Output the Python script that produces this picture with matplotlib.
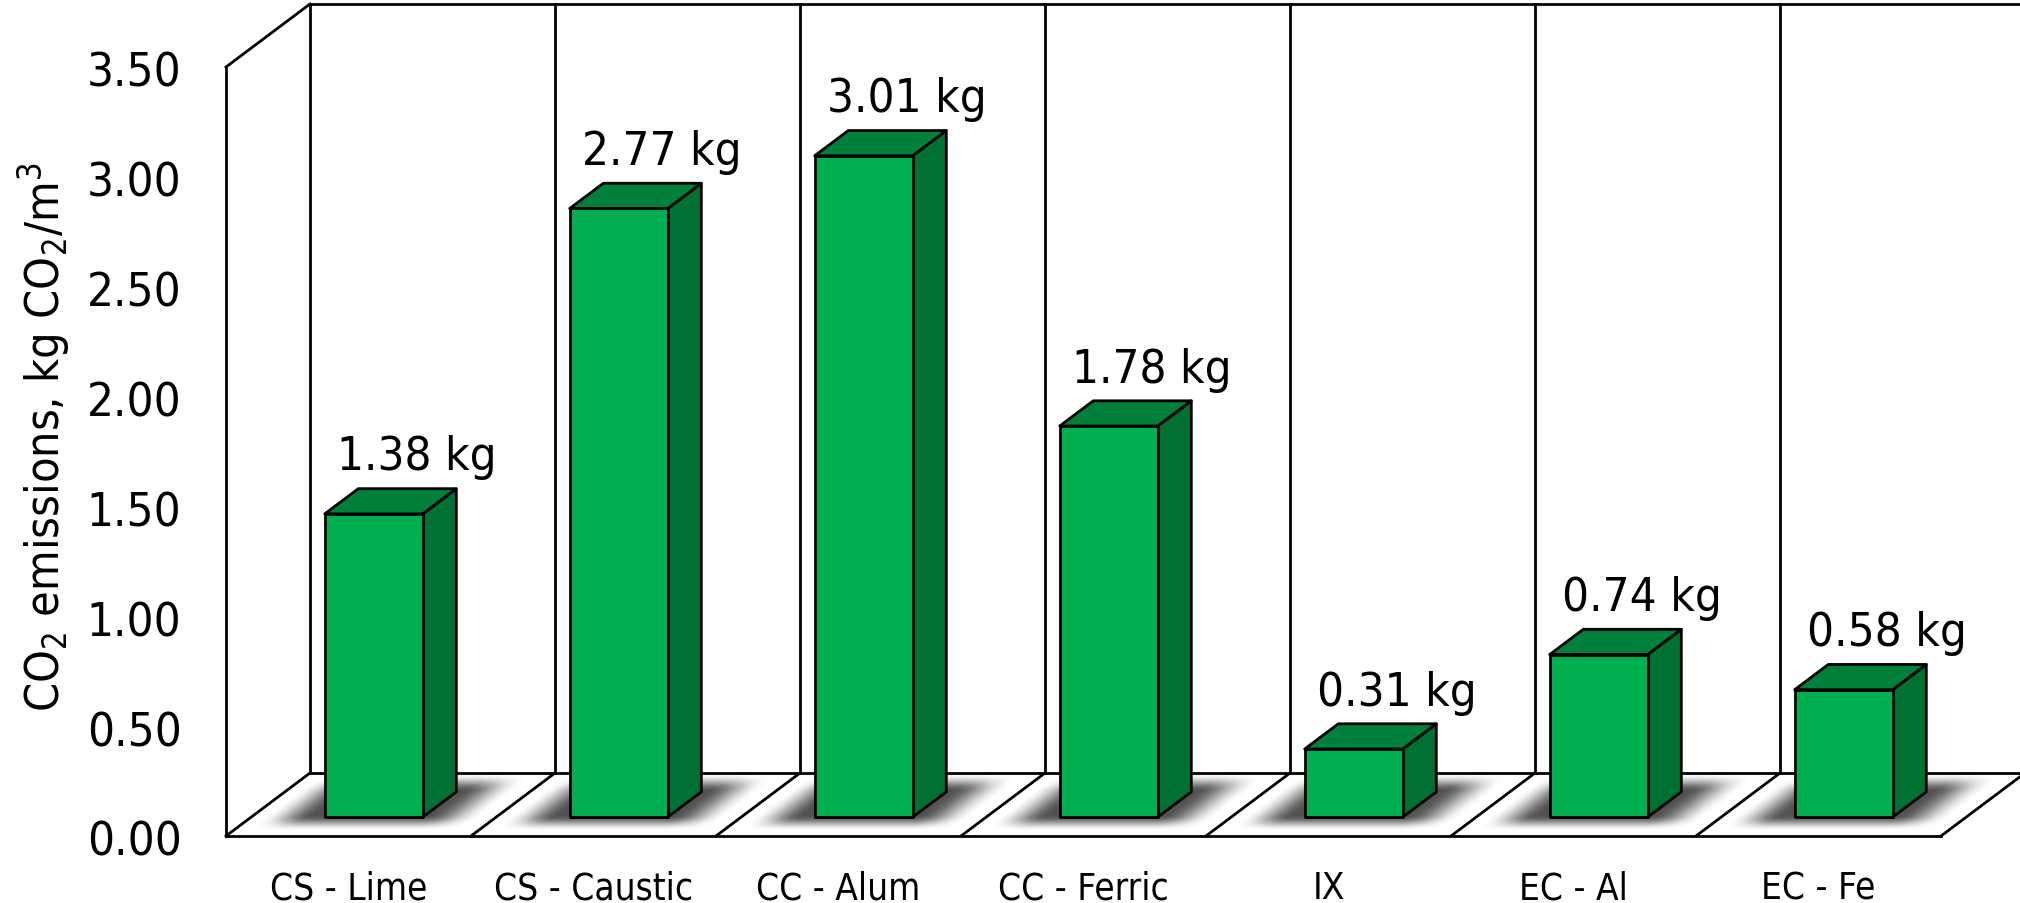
#!/usr/bin/env python
# -*- coding:utf-8 -*-

import numpy as np
from matplotlib import pyplot as plt
from matplotlib.patches import Polygon
from matplotlib.transforms import ScaledTranslation

categories = ['CS - Lime', 'CS - Caustic', 'CC - Alum', 'CC - Ferric', 'IX',
              'EC - Al', 'EC - Fe']
emissions = [1.38, 2.77, 3.01, 1.78, 0.31, 0.74, 0.58]
y_ticks = [0.0, 0.5, 1.0, 1.5, 2.0, 2.5, 3.0, 3.5]

Y_MAX = 3.5
# oblique projection: one full unit of depth moves this far in data units
DEPTH_X = 84 / 245
DEPTH_Y = 63 / 219.7
BAR_WIDTH = 0.40
BAR_FRONT = 0.30
BAR_DEPTH = 0.40

FRONT_COLOR = '#00b050'
TOP_COLOR = '#00803a'
SIDE_COLOR = '#007033'
LW = 2.0

plt.rcParams['font.family'] = ['DejaVu Sans']
plt.rcParams['font.stretch'] = 'condensed'
plt.rcParams['mathtext.default'] = 'regular'


def proj(x, y, d=0.0):
    """Project a point (slot, value, depth) on the 2D axes."""
    return x + d * DEPTH_X, y + d * DEPTH_Y


def edge(ax, p0, p1, z=2):
    ax.plot([p0[0], p1[0]], [p0[1], p1[1]], color='black', lw=LW,
            solid_capstyle='projecting', clip_on=False, zorder=z)


def smooth(v, lo, hi):
    t = np.clip((v - lo) / (hi - lo), 0, 1)
    return t * t * (3 - 2 * t)


def draw_shadow(ax, i):
    """Soft shadow of a bar on the floor, clipped to the floor of its slot."""
    x = np.linspace(i, i + 1 + DEPTH_X, 400)
    y = np.linspace(0, DEPTH_Y, 160)
    xx, yy = np.meshgrid(x, y)
    d = yy / DEPTH_Y
    u = xx - d * DEPTH_X - i
    alpha = (smooth(u, 0.05, 0.25) * (1 - smooth(u, 0.72, 0.94))
             * smooth(d, 0.08, 0.32) * (1 - smooth(d, 0.70, 0.98))) * 0.68
    rgba = np.zeros(alpha.shape + (4,))
    rgba[..., 3] = alpha
    im = ax.imshow(rgba, origin='lower', aspect='auto', interpolation='bilinear',
                   extent=(x[0], x[-1], y[0], y[-1]), zorder=1)
    clip = Polygon([proj(i, 0), proj(i + 1, 0), proj(i + 1, 0, 1), proj(i, 0, 1)],
                   closed=True, transform=ax.transData)
    # the floor runs past the right edge of the axes box
    im.set_clip_box(ax.figure.bbox)
    im.set_clip_path(clip)


def draw_bar(ax, i, value):
    x0 = i + 0.5 - BAR_WIDTH / 2 + 0.0
    x0, base = proj(x0, 0, BAR_FRONT)
    x1 = x0 + BAR_WIDTH
    top = base + value
    dx, dy = DEPTH_X * BAR_DEPTH, DEPTH_Y * BAR_DEPTH
    faces = [
        ([(x1, base), (x1 + dx, base + dy), (x1 + dx, top + dy), (x1, top)], SIDE_COLOR),
        ([(x0, top), (x1, top), (x1 + dx, top + dy), (x0 + dx, top + dy)], TOP_COLOR),
        ([(x0, base), (x1, base), (x1, top), (x0, top)], FRONT_COLOR),
    ]
    for corners, color in faces:
        ax.add_patch(Polygon(corners, closed=True, facecolor=color, edgecolor='black',
                             lw=LW, joinstyle='round', clip_on=False, zorder=3))
    ax.annotate('{:.2f} kg'.format(value), ((x0 + x1) / 2, top), xytext=(31, 41),
                textcoords='offset points', ha='center', va='center', fontsize=34,
                annotation_clip=False, zorder=4)


def main():
    fig = plt.figure(figsize=(20.2, 9.04), dpi=100)
    ax = fig.add_axes([226 / 2020, (904 - 837) / 904, 1715 / 2020, 769 / 904])
    n = len(categories)

    for i in range(n):
        draw_shadow(ax, i)

    # walls and floor
    for i in range(n + 1):
        edge(ax, proj(i, 0), proj(i, 0, 1))
        edge(ax, proj(i, 0, 1), proj(i, Y_MAX, 1))
    edge(ax, proj(0, 0), proj(n, 0))
    edge(ax, proj(0, 0, 1), proj(n, 0, 1))
    edge(ax, proj(0, 0), proj(0, Y_MAX))
    edge(ax, proj(0, Y_MAX), proj(0, Y_MAX, 1))
    edge(ax, proj(0, Y_MAX, 1), proj(n, Y_MAX, 1))

    for i, value in enumerate(emissions):
        draw_bar(ax, i, value)

    ax.set_xlim(0, n)
    ax.set_ylim(0, Y_MAX)
    ax.set_xticks(np.arange(n) + 0.5)
    ax.set_xticklabels(categories, fontsize=26.5)
    ax.set_yticks(y_ticks)
    ax.set_yticklabels(['{:.2f}'.format(t) for t in y_ticks], fontsize=34)
    ax.tick_params(axis='x', length=0, pad=24)
    ax.tick_params(axis='y', length=0, pad=32)
    nudge = ScaledTranslation(0, -1 / 72, fig.dpi_scale_trans)
    for label in ax.get_yticklabels():
        label.set_transform(label.get_transform() + nudge)
    for spine in ax.spines.values():
        spine.set_visible(False)
    ax.patch.set_visible(False)

    ax.set_ylabel('CO$_2$ emissions, kg CO$_2$/m$^3$', fontsize=33.5)
    ax.yaxis.set_label_coords(-0.090, 0.52)

    plt.savefig('out.png', dpi=100)


if __name__ == '__main__':
    main()
